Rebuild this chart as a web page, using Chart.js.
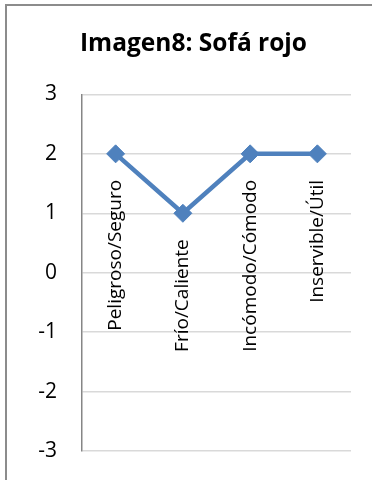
<!DOCTYPE html>
<html>
<head>
<meta charset="utf-8">
<script src="https://cdn.jsdelivr.net/npm/chart.js@4"></script>
<style>
html,body{margin:0;padding:0;background:#fff;}
#c{display:block;}
</style>
</head>
<body>
<canvas id="c" width="372" height="480"></canvas>
<script>
const chartTitle = "Imagen8: Sofá rojo";
const categories = ["Peligroso/Seguro", "Frío/Caliente", "Incómodo/Cómodo", "Inservible/Útil"];
const seriesValues = [2, 1, 2, 2];
const yTicks = [-3, -2, -1, 0, 1, 2, 3];

const FONT = "'Open Sans', 'Liberation Sans', sans-serif";

const framePlugin = {
  id: 'frame',
  beforeDraw(chart) {
    const ctx = chart.ctx;
    ctx.save();
    ctx.strokeStyle = '#8c8c8c';
    ctx.lineWidth = 2;
    ctx.beginPath();
    ctx.moveTo(6, 480);
    ctx.lineTo(6, 5);
    ctx.lineTo(372, 5);
    ctx.stroke();
    ctx.restore();
  }
};

const labelPlugin = {
  id: 'catLabels',
  afterDatasetsDraw(chart) {
    const ctx = chart.ctx;
    const meta = chart.getDatasetMeta(0);
    ctx.save();
    ctx.fillStyle = '#000';
    ctx.font = "19px " + FONT;
    ctx.textAlign = 'right';
    ctx.textBaseline = 'middle';
    meta.data.forEach((pt, i) => {
      ctx.save();
      ctx.translate(pt.x, pt.y + 26);
      ctx.rotate(-Math.PI / 2);
      ctx.fillText(chart.data.labels[i], 0, 0);
      ctx.restore();
    });
    ctx.restore();
  }
};

new Chart(document.getElementById('c'), {
  type: 'line',
  data: {
    labels: categories,
    datasets: [{
      data: seriesValues,
      borderColor: '#4f81bd',
      backgroundColor: '#4f81bd',
      borderWidth: 4.5,
      pointStyle: 'rectRot',
      pointRadius: 9,
      pointHoverRadius: 9,
      pointBorderWidth: 1,
      pointBorderColor: '#4f81bd',
      pointBackgroundColor: '#4f81bd',
      tension: 0,
      fill: false
    }]
  },
  options: {
    responsive: false,
    animation: false,
    devicePixelRatio: 1,
    layout: { padding: { left: 36, right: 21, top: 0, bottom: 29 } },
    plugins: {
      legend: { display: false },
      tooltip: { enabled: false },
      title: {
        display: true,
        text: chartTitle,
        color: '#000',
        font: { family: FONT, size: 24.5, weight: 'bold', lineHeight: 1.2 },
        padding: { top: 29, bottom: 36 }
      }
    },
    scales: {
      x: {
        type: 'category',
        offset: true,
        display: false
      },
      y: {
        min: -3,
        max: 3,
        afterFit(scale) {
          scale.width = 46;
          scale.paddingTop = 0;
          scale.paddingBottom = 0;
        },
        afterBuildTicks(scale) { scale.ticks = yTicks.map(v => ({ value: v })); },
        ticks: {
          stepSize: 1,
          padding: 25,
          color: '#000',
          font: { family: FONT, size: 21 }
        },
        grid: {
          color: '#d9d9d9',
          lineWidth: 1.5,
          drawTicks: false
        },
        border: { color: '#868686', width: 1.5 }
      }
    }
  },
  plugins: [framePlugin, labelPlugin]
});
</script>
</body>
</html>
